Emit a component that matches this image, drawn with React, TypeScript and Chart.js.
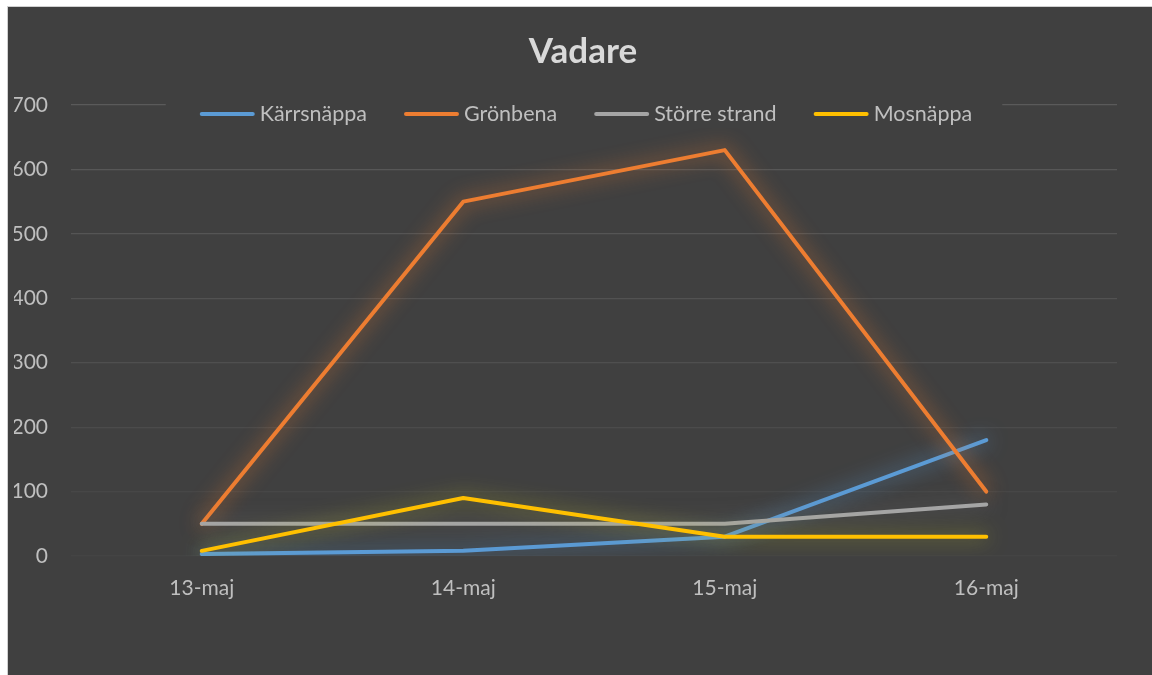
import React, { useEffect, useRef } from "react";
import { Chart, registerables } from "chart.js";

Chart.register(...registerables);

const categories = ["13-maj", "14-maj", "15-maj", "16-maj"];
const karrsnappa = [3, 8, 30, 180];
const gronbena = [50, 550, 630, 100];
const storreStrand = [50, 50, 50, 80];
const mosnappa = [8, 90, 30, 30];
const seriesNames = ["Kärrsnäppa", "Grönbena", "Större strand", "Mosnäppa"];
const seriesColors = ["#5b9bd5", "#ed7d31", "#a5a5a5", "#ffc000"];
const glowColors = [
  "rgba(91,155,213,0.9)",
  "rgba(237,125,49,0.9)",
  "rgba(140,140,140,0.5)",
  "rgba(190,190,40,0.75)",
];
const gridColors = ["#444444", "#474747", "#4b4b4b", "#4f4f4f", "#525252", "#555555", "#575757", "#5a5a5a"];

const BG = "#404040";
const FONT = "Lato";

const glowPlugin = {
  id: "glow",
  beforeDatasetDraw(chart: any, args: any) {
    const ctx = chart.ctx;
    ctx.save();
    ctx.shadowColor = glowColors[args.index];
    ctx.shadowBlur = 20;
    ctx.shadowOffsetX = 0;
    ctx.shadowOffsetY = 0;
  },
  afterDatasetDraw(chart: any) {
    chart.ctx.restore();
  },
};

const legendPlugin = {
  id: "customLegend",
  afterDraw(chart: any) {
    const ctx = chart.ctx;
    const area = chart.chartArea;
    const lineW = 55;
    const gap = 5;
    const spacing = 37;
    ctx.save();
    ctx.font = `21.5px ${FONT}`;
    const items = chart.data.datasets.map((d: any) => ({
      label: d.label,
      color: d.borderColor,
      w: ctx.measureText(d.label).width,
    }));
    const total =
      items.reduce((s: number, it: any) => s + lineW + gap + it.w, 0) + spacing * (items.length - 1);
    const cx = chart.width / 2 + 6;
    let x = cx - total / 2;
    const y = area.top + 9;
    ctx.fillStyle = BG;
    ctx.fillRect(x - 34, area.top - 3, total + 64, 26);
    ctx.textBaseline = "middle";
    ctx.textAlign = "left";
    items.forEach((it: any) => {
      ctx.strokeStyle = it.color;
      ctx.lineWidth = 4;
      ctx.lineCap = "round";
      ctx.beginPath();
      ctx.moveTo(x + 2, y);
      ctx.lineTo(x + lineW - 2, y);
      ctx.stroke();
      ctx.fillStyle = "#bfbfbf";
      ctx.fillText(it.label, x + lineW + gap, y);
      x += lineW + gap + it.w + spacing;
    });
    ctx.restore();
  },
};

export default function App() {
  const ref = useRef<HTMLCanvasElement>(null);
  useEffect(() => {
    if (!ref.current) return;
    const values = [karrsnappa, gronbena, storreStrand, mosnappa];
    const chart = new Chart(ref.current, {
      type: "line",
      data: {
        labels: categories,
        datasets: values.map((v, i) => ({
          label: seriesNames[i],
          data: v,
          borderColor: seriesColors[i],
          backgroundColor: seriesColors[i],
          borderWidth: 4,
          pointRadius: 0,
          borderCapStyle: "round",
          borderJoinStyle: "round",
          tension: 0,
          fill: false,
          order: 4 - i,
        })),
      },
      options: {
        animation: false,
        responsive: false,
        maintainAspectRatio: false,
        layout: { padding: { left: 6, right: 0, top: 0, bottom: 0 } },
        plugins: {
          legend: { display: false },
          tooltip: { enabled: false },
          title: {
            display: true,
            text: "Vadare",
            color: "#d9d9d9",
            font: { family: FONT, size: 35, weight: "bold" },
            padding: { top: 24, bottom: 32 },
          },
        },
        scales: {
          x: {
            type: "category",
            offset: true,
            grid: { display: false, drawTicks: false },
            border: { display: false },
            ticks: {
              color: "#bfbfbf",
              font: { family: FONT, size: 21 },
              padding: 20,
              maxRotation: 0,
            },
            afterFit(scale: any) {
              scale.height = 119;
            },
          },
          y: {
            min: 0,
            max: 700,
            grid: {
              drawTicks: false,
              color: (c: any) => gridColors[c.index] || "#555555",
              lineWidth: 1.2,
            },
            border: { display: false },
            ticks: {
              stepSize: 100,
              color: "#bfbfbf",
              font: { family: FONT, size: 21 },
              padding: 23,
            },
            afterFit(scale: any) {
              scale.width = 57;
            },
          },
          yRight: {
            position: "right",
            min: 0,
            max: 700,
            display: true,
            grid: { display: false, drawTicks: false },
            border: { display: false },
            ticks: { display: false },
            afterFit(scale: any) {
              scale.width = 35;
            },
          },
        },
      },
      plugins: [glowPlugin, legendPlugin],
    });
    return () => chart.destroy();
  }, []);

  return (
    <div
      style={{
        position: "absolute",
        left: 7,
        top: 6,
        width: 1144,
        height: 668,
        border: "1px solid #d0d0d0",
        background: BG,
      }}
    >
      <canvas ref={ref} width={1144} height={668} style={{ display: "block" }} />
    </div>
  );
}
